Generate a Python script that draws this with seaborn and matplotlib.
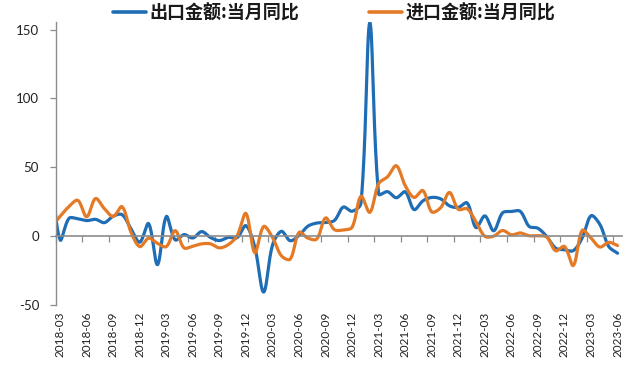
import numpy as np
import pandas as pd
import matplotlib
matplotlib.use("Agg")
import matplotlib.pyplot as plt
import seaborn as sns

# ---------------- data ----------------
# monthly YoY (%), first value is 2018-02 (just left of the visible axis), then 2018-03 ... 2023-06
export_yoy = [44.5,
              -2.7, 12.9, 12.6, 11.3, 12.2, 9.8, 14.5, 15.6, 5.4, -4.4,
              9.1, -20.7, 14.2, -2.7, 1.1, -1.3, 3.3, -1.0, -3.2, -0.9, -1.1, 7.6,
              -8.0, -40.6, -6.6, 3.5, -3.3, 0.5, 7.2, 9.5, 9.9, 11.4, 21.1, 18.1,
              24.0, 154.9, 30.6, 32.3, 27.9, 32.2, 19.3, 25.6, 28.1, 27.1, 22.0, 20.9,
              24.1, 6.2, 14.7, 3.9, 16.9, 17.9, 18.0, 7.1, 5.7, -0.3, -8.7, -9.9,
              -10.5, -1.3, 14.8, 8.5, -7.5, -12.4]
import_yoy = [6.3,
              14.4, 21.5, 26.0, 14.1, 27.3, 20.0, 14.3, 21.4, 3.0, -7.6,
              -1.5, -5.2, -7.6, 4.0, -8.5, -7.3, -5.6, -5.6, -8.5, -6.2, 0.3, 16.5,
              -12.0, 7.0, -0.9, -14.2, -16.7, 2.7, -1.4, -2.1, 13.2, 4.7, 4.5, 6.5,
              29.0, 17.3, 38.1, 43.1, 51.1, 36.7, 28.1, 33.1, 17.6, 20.6, 31.7, 19.5,
              19.9, 10.4, -0.1, 0.0, 4.1, 1.0, 2.3, 0.3, 0.3, -0.7, -10.6, -7.5,
              -21.3, 4.2, -1.4, -7.9, -4.5, -6.8]
tick_labels = ["2018-03", "2018-06", "2018-09", "2018-12", "2019-03", "2019-06",
               "2019-09", "2019-12", "2020-03", "2020-06", "2020-09", "2020-12",
               "2021-03", "2021-06", "2021-09", "2021-12", "2022-03", "2022-06",
               "2022-09", "2022-12", "2023-03", "2023-06"]
series_names = ["出口金额:当月同比", "进口金额:当月同比"]
colors = ["#1f6eb5", "#e57a26"]

PX_X, PX_Y = 8.85, 1.375   # approx screen scale (px per month, px per %)


def smooth(y, n=30):
    """Excel-style smoothed line: cubic Bezier through the points, control
    points scaled by neighbouring chord lengths in screen space."""
    y = np.asarray(y, dtype=float)
    x = np.arange(len(y)) - 1.0          # 2018-02 sits at index -1
    P = np.column_stack([x * PX_X, y * PX_Y])
    N = len(P)
    xs, ys = [], []
    t = np.linspace(0, 1, n, endpoint=False)[:, None]
    for i in range(N - 1):
        P0 = P[i - 1] if i > 0 else P[i]
        P1, P2 = P[i], P[i + 1]
        P3 = P[i + 2] if i + 2 < N else P[i + 1]
        d01 = np.linalg.norm(P1 - P0)
        d12 = np.linalg.norm(P2 - P1)
        d23 = np.linalg.norm(P3 - P2)
        T1 = (P2 - P0) / (d01 + d12)
        T2 = (P3 - P1) / (d12 + d23)
        C1 = P1 + T1 * d12 / 3.0
        C2 = P2 - T2 * d12 / 3.0
        B = ((1 - t) ** 3) * P1 + 3 * ((1 - t) ** 2) * t * C1 + 3 * (1 - t) * t ** 2 * C2 + t ** 3 * P2
        xs.append(B[:, 0])
        ys.append(B[:, 1])
    xs.append([P[-1, 0]])
    ys.append([P[-1, 1]])
    return np.concatenate(xs) / PX_X, np.concatenate(ys) / PX_Y


frames = []
for name, vals in zip(series_names, [export_yoy, import_yoy]):
    xs, ys = smooth(vals)
    frames.append(pd.DataFrame({"x": xs, "y": ys, "series": name}))
df = pd.concat(frames, ignore_index=True)

# ---------------- plot ----------------
sns.set_theme(style="white")
plt.rcParams["font.family"] = ["Lato", "Noto Sans CJK SC", "DejaVu Sans"]

fig = plt.figure(figsize=(6.4, 3.65), dpi=100)
ax = fig.add_axes([55.7 / 640, 1 - 305 / 365, (622 - 55.7) / 640, (305 - 22) / 365])

sns.lineplot(data=df, x="x", y="y", hue="series", palette=colors, sort=False,
             estimator=None, linewidth=2.3, ax=ax, legend=True)

ax.set_xlim(-0.5, 63.5)
ax.set_ylim(-50, 155.5)
ax.set_yticks([-50, 0, 50, 100, 150])
ax.set_yticklabels(["-50", "0", "50", "100", "150"])
ax.set_xlabel("")
ax.set_ylabel("")

grey = "#8c8c8c"
for s in ["top", "right"]:
    ax.spines[s].set_visible(False)
ax.spines["left"].set_color(grey)
ax.spines["left"].set_linewidth(1.0)
ax.spines["bottom"].set_position(("data", 0))
ax.spines["bottom"].set_color(grey)
ax.spines["bottom"].set_linewidth(1.2)

ax.tick_params(axis="y", which="major", direction="out", length=4, width=0.9,
               color=grey, pad=8, labelsize=9.5, labelcolor="#222222", left=True)
ax.set_xticks(np.arange(-0.5, 63, 3), minor=True)
ax.set_xticks([])
ax.tick_params(axis="x", which="minor", direction="out", length=4, width=0.9,
               color=grey, bottom=True)

sec = ax.secondary_xaxis("bottom")
sec.set_xticks(np.arange(0, 64, 3))
sec.set_xticklabels(tick_labels, rotation=90, fontsize=8.5, color="#222222")
sec.tick_params(length=0, pad=5)
sec.spines["bottom"].set_visible(False)

leg = ax.legend(loc="center", bbox_to_anchor=(0.522, 0.965), bbox_transform=fig.transFigure,
                ncol=2, frameon=False, handlelength=1.8, handletextpad=0.2,
                columnspacing=3.9, borderaxespad=0,
                prop={"family": ["Noto Sans CJK SC", "DejaVu Sans"], "size": 13,
                      "weight": "bold"})
for line in leg.get_lines():
    line.set_linewidth(2.6)
for t in leg.get_texts():
    t.set_color("#1a1a1a")

fig.savefig("out.png", dpi=100)
